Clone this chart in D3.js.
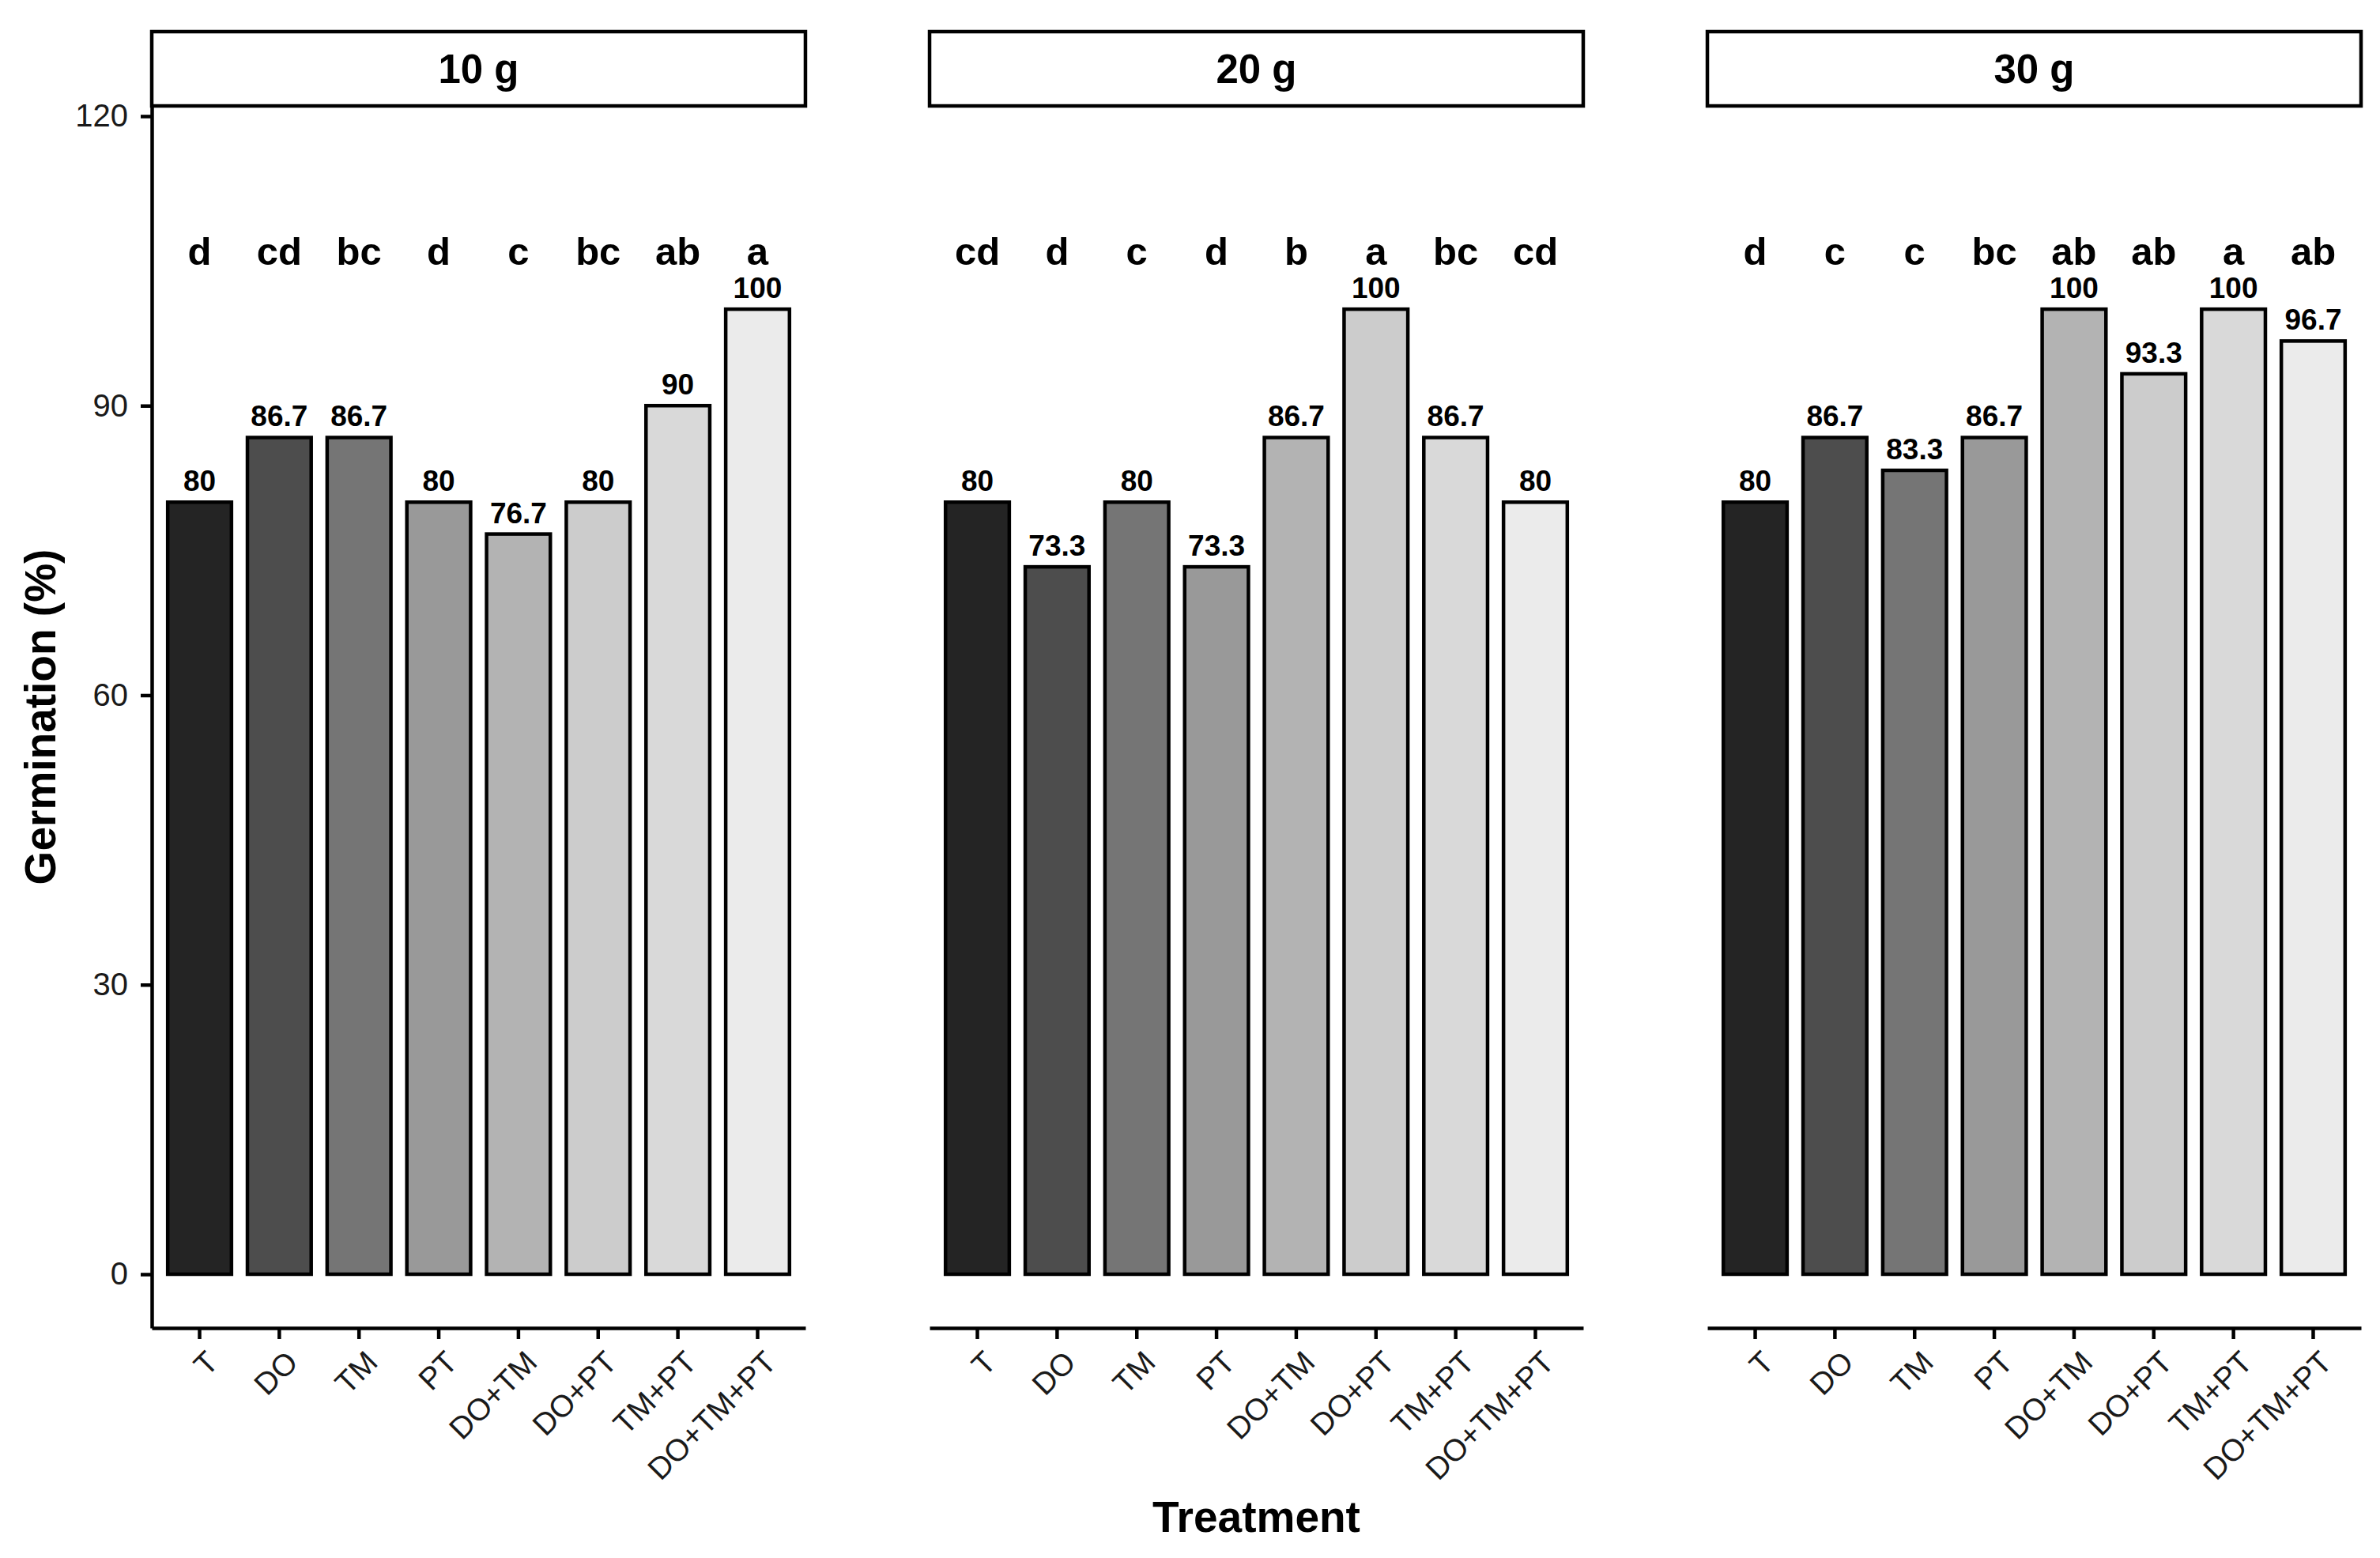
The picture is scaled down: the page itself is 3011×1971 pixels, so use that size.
<!DOCTYPE html>
<meta charset="utf-8">
<style>

    body {
        margin: 0;
        background: #fff;
    }

    text {
        font-family: "Liberation Sans", Arial, sans-serif;
        fill: #000;
    }

    .axis path,
    .axis line {
        stroke: #000;
        stroke-width: 4.5;
    }

    rect.bar {
        stroke: #000;
        stroke-width: 4.5;
    }

    rect.strip {
        fill: #fff;
        stroke: #000;
        stroke-width: 4.5;
    }

    .strip-label {
        font-size: 51px;
        font-weight: bold;
    }

    .value {
        font-size: 37px;
        font-weight: bold;
    }

    .letter {
        font-size: 49px;
        font-weight: bold;
    }

    .title {
        font-size: 55px;
        font-weight: bold;
    }

</style>
<body>

<script src="https://d3js.org/d3.v7.min.js"></script>
<script>

    var facets = ["10 g", "20 g", "30 g"];
    var treatments = ["T", "DO", "TM", "PT", "DO+TM", "DO+PT", "TM+PT", "DO+TM+PT"];
    var fills = ["#242424", "#4d4d4d", "#757575", "#999999", "#b3b3b3", "#cccccc", "#d9d9d9", "#ebebeb"];

    var germ10 = [80, 86.7, 86.7, 80, 76.7, 80, 90, 100];
    var germ20 = [80, 73.3, 80, 73.3, 86.7, 100, 86.7, 80];
    var germ30 = [80, 86.7, 83.3, 86.7, 100, 93.3, 100, 96.7];

    var letters10 = ["d", "cd", "bc", "d", "c", "bc", "ab", "a"];
    var letters20 = ["cd", "d", "c", "d", "b", "a", "bc", "cd"];
    var letters30 = ["d", "c", "c", "bc", "ab", "ab", "a", "ab"];

    var yTicks = [0, 30, 60, 90, 120];
    var letterLevel = 104.6;   // height (in % units) of the letter row

    var germ = [germ10, germ20, germ30],
        letters = [letters10, letters20, letters30];

    var width = 3011,
        height = 1971,
        plotLeft = 192,
        plotRight = 2987,
        plotTop = 134,
        plotBottom = 1680,
        stripTop = 40;

    var facetX = d3.scaleBand()
            .domain(facets)
            .range([plotLeft, plotRight])
            .paddingInner(0.1596);

    var x = d3.scaleBand()
            .domain(treatments)
            .range([0, facetX.bandwidth()])
            .paddingInner(0.2)
            .paddingOuter(0.2);

    var y = d3.scaleLinear()
            .domain([-5.57, 121.06])
            .range([plotBottom, plotTop]);

    var color = d3.scaleOrdinal()
            .domain(treatments)
            .range(fills);

    var svg = d3.select("body").append("svg")
            .attr("width", width)
            .attr("height", height);

    svg.append("rect")
            .attr("width", width)
            .attr("height", height)
            .attr("fill", "#fff");

    facets.forEach(function(f, i) {
        var rows = treatments.map(function(t, j) {
            return {treatment: t, value: germ[i][j], letter: letters[i][j]};
        });

        var panel = svg.append("g")
                .attr("class", "panel")
                .attr("transform", "translate(" + facetX(f) + ",0)");

        // strip
        panel.append("rect")
                .attr("class", "strip")
                .attr("x", 0)
                .attr("y", stripTop)
                .attr("width", facetX.bandwidth())
                .attr("height", plotTop - stripTop);

        panel.append("text")
                .attr("class", "strip-label")
                .attr("x", facetX.bandwidth() / 2)
                .attr("y", (stripTop + plotTop) / 2)
                .attr("dy", "0.36em")
                .attr("text-anchor", "middle")
                .text(f);

        panel.selectAll("rect.bar")
                .data(rows)
            .enter().append("rect")
                .attr("class", "bar")
                .attr("x", function(d) { return x(d.treatment); })
                .attr("width", x.bandwidth())
                .attr("y", function(d) { return y(d.value); })
                .attr("height", function(d) { return y(0) - y(d.value); })
                .attr("fill", function(d) { return color(d.treatment); });

        panel.selectAll("text.value")
                .data(rows)
            .enter().append("text")
                .attr("class", "value")
                .attr("x", function(d) { return x(d.treatment) + x.bandwidth() / 2; })
                .attr("y", function(d) { return y(d.value) - 14; })
                .attr("text-anchor", "middle")
                .text(function(d) { return d.value; });

        panel.selectAll("text.letter")
                .data(rows)
            .enter().append("text")
                .attr("class", "letter")
                .attr("x", function(d) { return x(d.treatment) + x.bandwidth() / 2; })
                .attr("y", y(letterLevel))
                .attr("text-anchor", "middle")
                .text(function(d) { return d.letter; });

        var xAxis = d3.axisBottom(x)
                .tickSize(14)
                .tickSizeOuter(0);

        var gx = panel.append("g")
                .attr("class", "x axis")
                .attr("transform", "translate(0," + plotBottom + ")")
                .call(xAxis);

        gx.selectAll(".tick text")
                .style("font-size", "39px")
                .style("font-family", "'Liberation Sans', Arial, sans-serif")
                .style("fill", "#1a1a1a")
                .attr("y", 0)
                .attr("dy", "0.72em")
                .attr("text-anchor", "end")
                .attr("transform", "translate(6,26) rotate(-45)");

        if (i === 0) {
            var yAxis = d3.axisLeft(y)
                    .tickValues(yTicks)
                    .tickSize(14)
                    .tickSizeOuter(0)
                    .tickPadding(16);

            panel.append("g")
                    .attr("class", "y axis")
                    .call(yAxis)
                .selectAll(".tick text")
                    .style("font-size", "40px")
                    .style("font-family", "'Liberation Sans', Arial, sans-serif")
                    .style("fill", "#1a1a1a");
        }
    });

    svg.append("text")
            .attr("class", "title")
            .attr("x", (plotLeft + plotRight) / 2)
            .attr("y", 1938)
            .attr("text-anchor", "middle")
            .text("Treatment");

    svg.append("text")
            .attr("class", "title")
            .attr("transform", "translate(70," + (plotTop + plotBottom) / 2 + ") rotate(-90)")
            .attr("text-anchor", "middle")
            .text("Germination (%)");

</script>
